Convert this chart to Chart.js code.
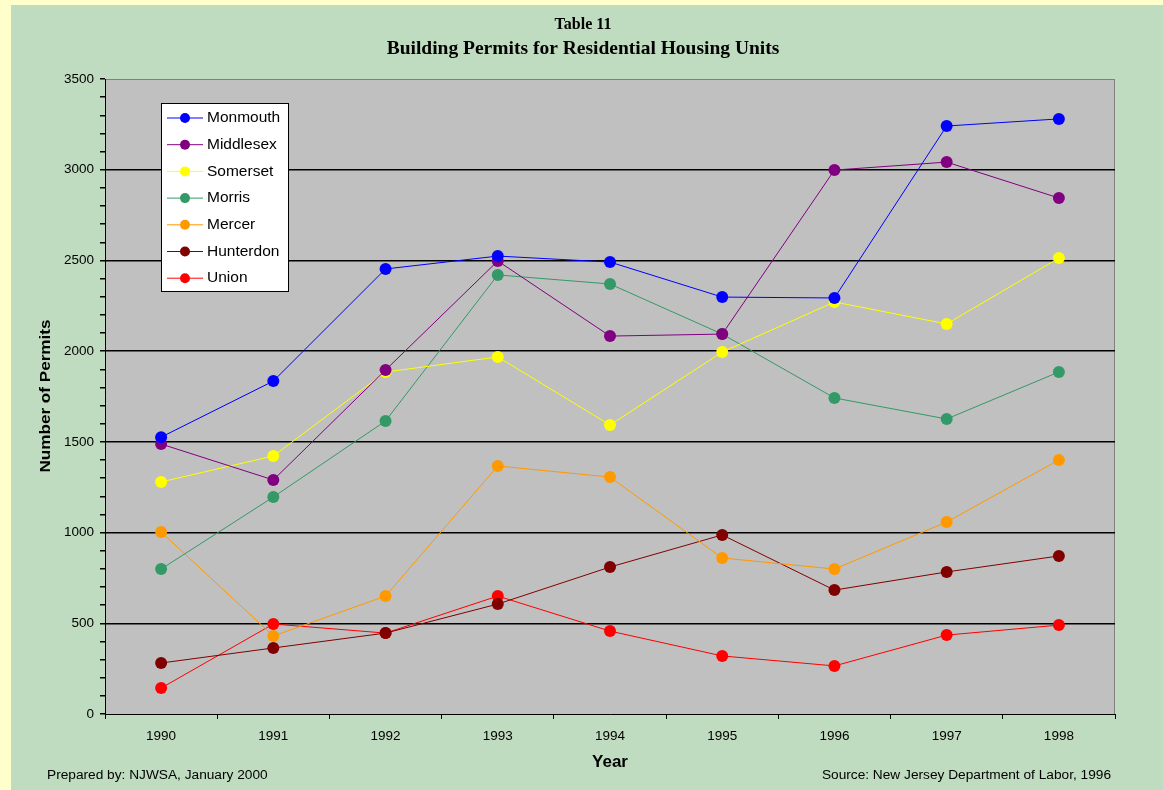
<!DOCTYPE html>
<html lang="en">
<head>
  <meta charset="UTF-8">
  <title>Building Permits for Residential Housing Units</title>
  <script src="https://cdn.jsdelivr.net/npm/chart.js"></script>
  <style>
    body { margin: 0; background: #FFFFCC; }
    canvas { display: block; }
  </style>
</head>
<body>
  <canvas id="permitChart" width="1163" height="790"></canvas>

  <script>
    // Years and permit counts per county
    const years = ['1990', '1991', '1992', '1993', '1994', '1995', '1996', '1997', '1998'];
    const monmouth  = [1526, 1835, 2453, 2524, 2491, 2298, 2293, 3241, 3280];
    const middlesex = [1488, 1290, 1896, 2497, 2083, 2094, 2998, 3042, 2844];
    const somerset  = [1279, 1422, 1885, 1968, 1593, 1995, 2271, 2150, 2513];
    const morris    = [799, 1196, 1615, 2420, 2370, 2094, 1742, 1626, 1885];
    const mercer    = [1003, 430, 650, 1367, 1306, 860, 799, 1058, 1400];
    const hunterdon = [281, 364, 446, 606, 810, 987, 683, 783, 871];
    const union     = [143, 496, 446, 650, 457, 320, 265, 435, 490];

    const counties = ['Monmouth', 'Middlesex', 'Somerset', 'Morris', 'Mercer', 'Hunterdon', 'Union'];
    const seriesValues = [monmouth, middlesex, somerset, morris, mercer, hunterdon, union];
    const seriesColors = ['#0000FF', '#800080', '#FFFF00', '#339966', '#FF9900', '#800000', '#FF0000'];

    const sans = "'Liberation Sans', Arial, sans-serif";
    const serif = "'Liberation Serif', 'Times New Roman', serif";

    // Backgrounds, plot frame, titles, footers and the boxed legend
    const decor = {
      id: 'decor',
      beforeDraw(chart) {
        const c = chart.ctx;
        const a = chart.chartArea;
        c.save();
        c.fillStyle = '#FFFFCC';
        c.fillRect(0, 0, chart.width, chart.height);
        c.fillStyle = '#C0DCC0';
        c.fillRect(11, 5, chart.width - 11, chart.height - 5);
        c.fillStyle = '#C0C0C0';
        c.fillRect(a.left, a.top, a.right - a.left, a.bottom - a.top);
        c.strokeStyle = '#808080';
        c.lineWidth = 1;
        c.strokeRect(a.left + 0.5, a.top + 0.5, a.right - a.left - 1, a.bottom - a.top);
        c.restore();
      },
      afterDraw(chart) {
        const c = chart.ctx;
        c.save();
        c.fillStyle = '#000';
        c.textAlign = 'center';
        c.textBaseline = 'middle';
        c.font = 'bold 16px ' + serif;
        c.fillText('Table 11', 583, 25);
        c.font = 'bold 19.5px ' + serif;
        c.fillText('Building Permits for Residential Housing Units', 583, 49);

        c.font = 'bold 17px ' + sans;
        c.fillText('Year', 610, 762);

        c.save();
        c.translate(46, 396);
        c.rotate(-Math.PI / 2);
        c.scale(1.14, 1);
        c.font = 'bold 15px ' + sans;
        c.fillText('Number of Permits', 0, 0);
        c.restore();

        c.font = '13.7px ' + sans;
        c.textAlign = 'left';
        c.fillText('Prepared by: NJWSA, January 2000', 47, 775);
        c.textAlign = 'right';
        c.fillText('Source: New Jersey Department of Labor, 1996', 1111, 775);

        // legend box
        c.fillStyle = '#FFFFFF';
        c.fillRect(161, 103, 127, 188);
        c.strokeStyle = '#000';
        c.lineWidth = 1;
        c.strokeRect(161.5, 103.5, 127, 188);
        c.font = '15.5px ' + sans;
        c.textAlign = 'left';
        chart.data.datasets.forEach((ds, i) => {
          const y = 118 + i * 26.7;
          c.strokeStyle = ds.borderColor;
          c.beginPath();
          c.moveTo(167, y);
          c.lineTo(203, y);
          c.stroke();
          c.fillStyle = ds.backgroundColor;
          c.beginPath();
          c.arc(185, y, 5, 0, Math.PI * 2);
          c.fill();
          c.fillStyle = '#000';
          c.fillText(ds.label, 207, y);
        });
        c.restore();
      }
    };

    const ctx = document.getElementById('permitChart').getContext('2d');
    const permitChart = new Chart(ctx, {
      type: 'line',
      data: {
        labels: years,
        datasets: counties.map((name, i) => ({
          label: name,
          data: seriesValues[i],
          borderColor: seriesColors[i],
          backgroundColor: seriesColors[i],
          borderWidth: 1,
          pointRadius: 6,
          pointBorderWidth: 0,
          tension: 0
        }))
      },
      options: {
        responsive: false,
        animation: false,
        layout: {
          padding: { top: 79, right: 48, bottom: 0, left: 0 }
        },
        scales: {
          x: {
            offset: true,
            afterFit: s => { s.height = 76; },
            grid: {
              offset: true,
              drawOnChartArea: false,
              tickColor: '#000',
              tickLength: 5
            },
            border: { color: '#000', width: 1 },
            ticks: {
              color: '#000',
              font: { family: sans, size: 13.5 },
              padding: 9
            }
          },
          y: {
            min: 0,
            max: 3500,
            afterFit: s => { s.width = 105; },
            grid: {
              color: t => (t.tick && t.tick.value % 500 === 0 && t.tick.value > 0 && t.tick.value < 3500) ? '#000' : 'rgba(0,0,0,0)',
              lineWidth: 1.5,
              tickColor: '#000',
              tickLength: 5
            },
            border: { color: '#000', width: 1 },
            ticks: {
              stepSize: 100,
              autoSkip: false,
              color: '#000',
              font: { family: sans, size: 13.5 },
              padding: 6,
              callback: v => (v % 500 === 0 ? String(v) : '')
            }
          }
        },
        plugins: {
          legend: { display: false },
          tooltip: { enabled: false }
        }
      },
      plugins: [decor]
    });
  </script>
</body>
</html>
